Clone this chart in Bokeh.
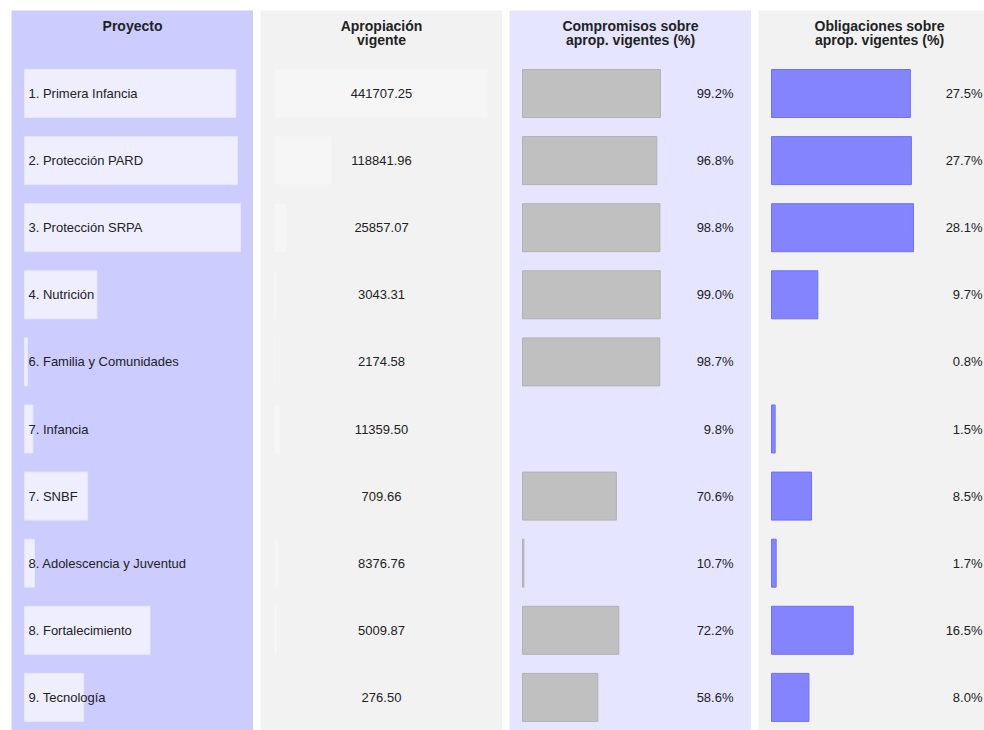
from bokeh.plotting import figure
from bokeh.layouts import row
from bokeh.models import Range1d, ColumnDataSource
from bokeh.core.properties import value
from bokeh.embed import file_html
from bokeh.resources import INLINE

# ---------------- data ----------------
proyectos = [
    "1. Primera Infancia",
    "2. Protección PARD",
    "3. Protección SRPA",
    "4. Nutrición",
    "6. Familia y Comunidades",
    "7. Infancia",
    "7. SNBF",
    "8. Adolescencia y Juventud",
    "8. Fortalecimiento",
    "9. Tecnología",
]
apropiacion = [441707.25, 118841.96, 25857.07, 3043.31, 2174.58,
               11359.50, 709.66, 8376.76, 5009.87, 276.50]
compromisos = [99.2, 96.8, 98.8, 99.0, 98.7, 9.8, 70.6, 10.7, 72.2, 58.6]
obligaciones = [27.5, 27.7, 28.1, 9.7, 0.8, 1.5, 8.5, 1.7, 16.5, 8.0]

header_proyecto = ["Proyecto"]
header_apropiacion = ["Apropiación", "vigente"]
header_compromisos = ["Compromisos sobre", "aprop. vigentes (%)"]
header_obligaciones = ["Obligaciones sobre", "aprop. vigentes (%)"]

# ---------------- layout / style ----------------
FONT = value("Liberation Sans")
TEXT_COLOR = "#222222"
COL_W = 242
LAST_W = 226
GAP = 7
FIG_H = 730
TOP_PAD = 10
LEFT_PAD = 11
FRAME_H = FIG_H - TOP_PAD
ROW_PX = 67.1
ROW0_PX = 83.0        # centre of first row, px below frame top
BAR_PX = 48.0
HEAD_MID = [15.3, 29.3]

def yv(px):
    return (px - ROW0_PX) / ROW_PX

idx = list(range(len(proyectos)))
y_range = Range1d(start=yv(FRAME_H), end=yv(0))
bar_h = BAR_PX / ROW_PX


def make_fig(width, bg, xr, left_pad=0):
    p = figure(width=width + left_pad, height=FIG_H, x_range=xr, y_range=y_range,
               output_backend="svg", toolbar_location=None,
               x_axis_location=None, y_axis_location=None,
               min_border_left=left_pad, min_border_right=0,
               min_border_top=TOP_PAD, min_border_bottom=0,
               background_fill_color=bg, border_fill_color="white",
               outline_line_color=None)
    p.grid.visible = False
    return p


def add_header(p, lines, xc=None):
    if xc is None:
        xc = (p.x_range.start + p.x_range.end) / 2
    for k, line in enumerate(lines):
        p.text(x=[xc], y=[yv(HEAD_MID[k])], text=[line], text_font=FONT,
               text_font_size="14px", text_font_style="bold",
               text_color=TEXT_COLOR, text_align="center",
               text_baseline="middle")


def scale(vals, bar_max_px, left_px, width_px, min_px=0.0):
    m, M = min(vals), max(vals)
    s = (M - m) / bar_max_px
    base = m - min_px * s
    xr = Range1d(base - left_px * s, base - left_px * s + width_px * s)
    alpha = [0.0 if v == m and min_px == 0 else 1.0 for v in vals]
    return xr, base, s, alpha

# ---- column 1 : Proyecto ----
xr1, base1, s1, a1 = scale(obligaciones, 213, 13, COL_W, min_px=3)
p1 = make_fig(COL_W, "#ccccff", xr1, left_pad=LEFT_PAD)
src1 = ColumnDataSource(dict(y=idx, right=obligaciones, name=proyectos))
p1.hbar(y="y", left=base1, right="right", height=bar_h, source=src1,
        fill_color="#eeeeff", line_color="#e6e6fb", line_width=1)
p1.text(x=xr1.start, y="y", text="name", source=src1, x_offset=17,
        text_font=FONT, text_font_size="13px", text_color=TEXT_COLOR,
        text_align="left", text_baseline="middle")
add_header(p1, header_proyecto)

# ---- column 2 : Apropiación vigente ----
xr2, base2, s2, a2 = scale(apropiacion, 213, 14, COL_W)
p2 = make_fig(COL_W, "#f2f2f2", xr2)
src2 = ColumnDataSource(dict(y=idx, right=apropiacion,
                             label=[f"{v:.2f}" for v in apropiacion]))
p2.hbar(y="y", left=base2, right="right", height=bar_h, source=src2,
        fill_color="#f6f6f6", line_color=None)
p2.text(x=(xr2.start + xr2.end) / 2, y="y", text="label", source=src2,
        text_font=FONT, text_font_size="13px", text_color=TEXT_COLOR,
        text_align="center", text_baseline="middle")
add_header(p2, header_apropiacion)

# ---- column 3 : Compromisos ----
xr3, base3, s3, a3 = scale(compromisos, 138, 13, COL_W)
p3 = make_fig(COL_W, "#e5e5ff", xr3)
src3 = ColumnDataSource(dict(y=idx, right=compromisos, a=a3,
                             label=[f"{v:.1f}%" for v in compromisos]))
p3.hbar(y="y", left=base3, right="right", height=bar_h, source=src3,
        fill_color="#c0c0c0", line_color="#b2b2b2", line_alpha="a")
p3.text(x=xr3.end, y="y", text="label", source=src3, x_offset=-18,
        text_font=FONT, text_font_size="13px", text_color=TEXT_COLOR,
        text_align="right", text_baseline="middle")
add_header(p3, header_compromisos)

# ---- column 4 : Obligaciones ----
xr4, base4, s4, a4 = scale(obligaciones, 142, 13, COL_W)
xr4.end = xr4.start + LAST_W * s4
p4 = make_fig(LAST_W, "#f2f2f2", xr4)
src4 = ColumnDataSource(dict(y=idx, right=obligaciones, a=a4,
                             label=[f"{v:.1f}%" for v in obligaciones]))
p4.hbar(y="y", left=base4, right="right", height=bar_h, source=src4,
        fill_color="#8484ff", line_color="#7070ff", line_alpha="a")
p4.text(x=xr4.end, y="y", text="label", source=src4, x_offset=-2,
        text_font=FONT, text_font_size="13px", text_color=TEXT_COLOR,
        text_align="right", text_baseline="middle")
add_header(p4, header_obligaciones, xc=xr4.start + (COL_W / 2) * s4)

layout = row(p1, p2, p3, p4, spacing=GAP)

open("out.html", "w").write(file_html(layout, INLINE))
